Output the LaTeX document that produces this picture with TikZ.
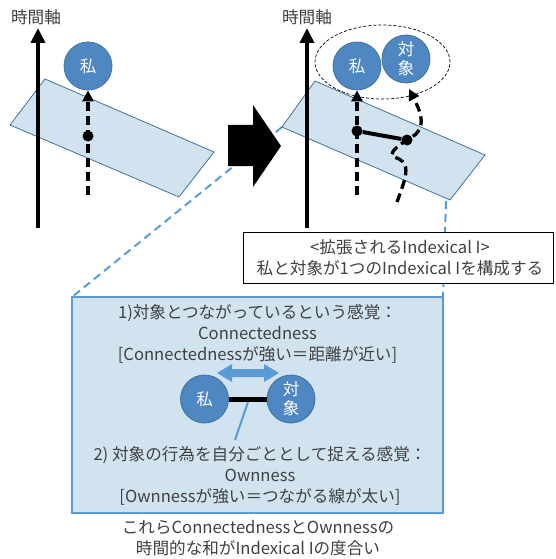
\documentclass[tikz,border=0pt]{standalone}
\usepackage{fontspec}
\setmainfont{Noto Sans CJK JP}
\usetikzlibrary{arrows.meta,shapes.geometric}
\definecolor{txt}{HTML}{404040}
\definecolor{cfill}{HTML}{4F87C2}
\definecolor{cline}{HTML}{41719C}
\definecolor{plane}{HTML}{D2E3F0}
\definecolor{dblue}{HTML}{5B9BD5}
\begin{document}
\begin{tikzpicture}[x=1pt,y=-1pt,
  lbl/.style={text=txt,font=\fontsize{16.6}{21}\selectfont,align=center,inner sep=0pt},
  who/.style={circle,draw=cline,line width=0.8pt,fill=cfill,minimum size=48pt,inner sep=0pt,
    text=white,font=\fontsize{16.5}{19}\selectfont,align=center},
  axis/.style={line width=4pt,-{Triangle[width=14pt,length=15pt]}},
  dasharrow/.style={line width=3.3pt,dash pattern=on 9pt off 5pt,-{Triangle[width=11pt,length=11pt]}},
  dot/.style={circle,fill=black,minimum size=11pt,inner sep=0pt},
  planestyle/.style={draw=cline,line width=0.8pt,fill=plane},
  blued/.style={draw=dblue,line width=2pt,dash pattern=on 8pt off 5pt}]
\useasboundingbox (0,0) rectangle (555,559);
% zoom guide lines
\coordinate (zl1) at (282,127);
\coordinate (zr1) at (446,201);
\coordinate (zl2) at (72,297);
\coordinate (zr2) at (443,297);
\draw[blued] (zl1) -- (zl2);
\draw[blued] (zr1) -- (zr2);
% ---------- left panel
\node[lbl] (t1) at (36,17) {時間軸};
\coordinate (a1b) at (38,228);
\coordinate (a1t) at (38,28);
\draw[planestyle] (10,125) -- (45,79) -- (214,152) -- (179,197) -- cycle;
\draw[axis] (a1b) -- (a1t);
\node[who] (me1) at (88,66) {私};
\coordinate (d1s) at (88,195);
\draw[dasharrow] (d1s) -- (me1.south);
\node[dot] (p1) at (88,136) {};
% big arrow
\fill[black] (228,125) -- (253,125) -- (253,105) -- (281,146) -- (253,187) -- (253,166) -- (228,166) -- cycle;
% ---------- right panel
\node[lbl] (t2) at (307,17) {時間軸};
\coordinate (a2b) at (307,228);
\coordinate (a2t) at (307,28);
\draw[planestyle] (282,127) -- (315,81) -- (485,155) -- (450,200) -- cycle;
\draw[axis] (a2b) -- (a2t);
\node[ellipse,draw,line width=0.7pt,dash pattern=on 3pt off 2pt,minimum width=135pt,minimum height=74pt] (grp) at (382.5,62) {};
\node[who] (me2) at (357,66) {私};
\node[who] (ob2) at (406,59) {対\\象};
\coordinate (d2s) at (357,195);
\draw[dasharrow] (d2s) -- (me2.south);
\node[dot] (p2) at (357,131) {};
\node[dot] (p3) at (407,140) {};
\draw[line width=4pt] (p2) -- (p3);
\draw[dasharrow] plot[smooth,tension=0.6] coordinates {(397,202) (405,178) (405,165) (399,159) (392,155) (396,148) (407,140) (416,134) (421,124) (419,110) (409,89)};
% text box
\node[draw=black,line width=0.8pt,fill=white,minimum width=310pt,minimum height=51pt,inner sep=0pt] (tb) at (398,257.5) {};
\node[lbl] (tbt) at (400,257.5) {<拡張されるIndexical I>\\私と対象が1つのIndexical Iを構成する};
% ---------- lower box
\node[draw=dblue,line width=1.5pt,fill=plane,minimum width=371pt,minimum height=216pt,inner sep=0pt] (box) at (257.5,405) {};
\node[lbl] (c1) at (257.5,334) {1)対象とつながっているという感覚：\\Connectedness\\{}[Connectednessが強い＝距離が近い]};
\fill[dblue] (217,373) -- (232,364) -- (232,369) -- (264,369) -- (264,364) -- (279,373) -- (264,382) -- (264,377) -- (232,377) -- (232,382) -- cycle;
\node[who] (me3) at (204.5,399) {私};
\node[who] (ob3) at (291,399) {対\\象};
\draw[line width=5pt] (me3) -- (ob3);
\coordinate (ow1) at (248,402);
\coordinate (ow2) at (235,440);
\draw[dblue,line width=2pt] (ow1) -- (ow2);
\node[lbl] (c2) at (260,476) {2) 対象の行為を自分ごととして捉える感覚：\\Ownness\\{}[Ownnessが強い＝つながる線が太い]};
\node[lbl] (c3) at (258,538.5) {これらConnectednessとOwnnessの\\時間的な和がIndexical Iの度合い};
\end{tikzpicture}
\end{document}
